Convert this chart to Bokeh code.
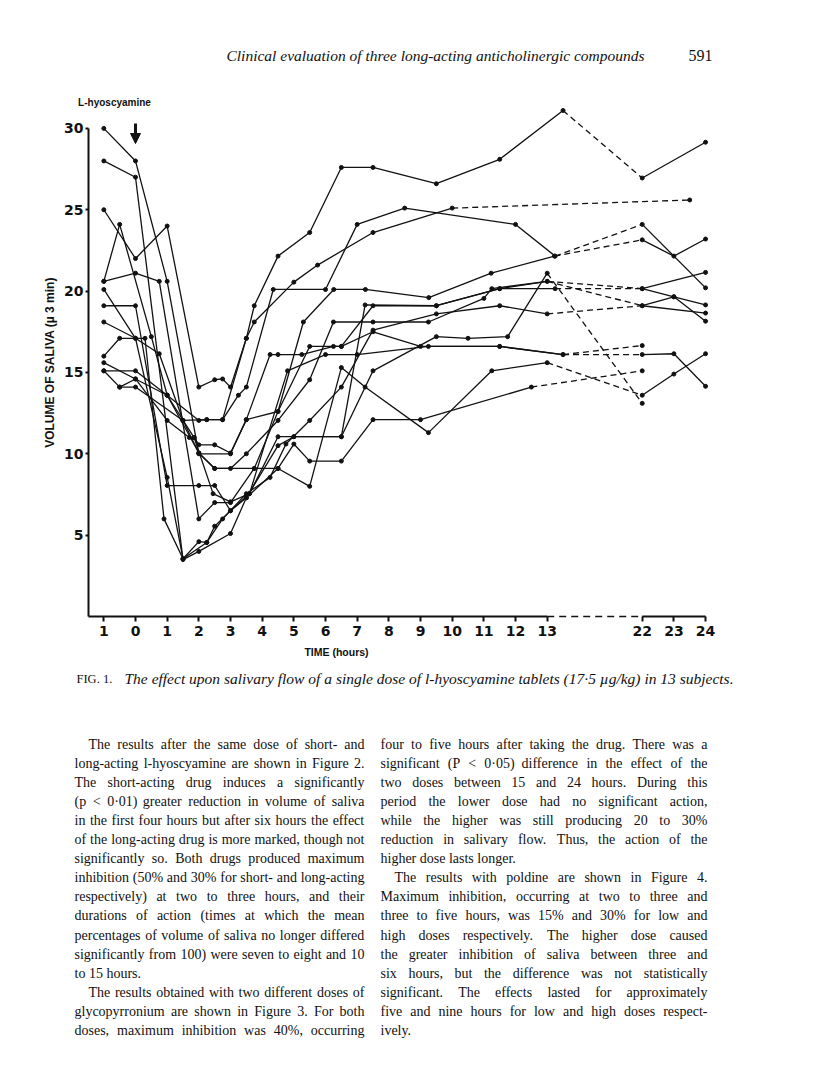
import math
from bokeh.plotting import figure
from bokeh.models import Label, LabelSet, ColumnDataSource, Arrow, NormalHead, FixedTicker, LinearAxis
from bokeh.embed import file_html
from bokeh.resources import INLINE
from bokeh.core.properties import value

# ---------------- data (hours, volume of saliva) ----------------
s1_t = [-1, 0, 1, 2, 3, 3.5, 4.5, 5.3, 6.26, 7.26, 9.26, 11.23, 13.23, 22, 23, 24]
s1_v = [30, 28, 20.6, 10.0, 10.0, 12.1, 12.6, 18.1, 20.1, 20.1, 19.6, 21.1, 22.15, 23.15, 22.15, 23.2]
s2_t = [-1, 0, 1.5, 2, 3, 3.5, 4.5, 5.5, 6.5, 7.25, 9.25, 11.25, 13, 22, 23, 24]
s2_v = [28, 27, 3.5, 4.0, 5.1, 7.3, 9.1, 8.0, 15.3, 14.1, 11.3, 15.1, 15.6, 13.6, 14.9, 16.15]
s3_t = [-1, 0, 1, 2, 2.5, 2.75, 3, 3.5, 3.75, 4.5, 5.5, 6.5, 7.5, 9.5, 11.5, 13.5, 22, 24]
s3_v = [25, 22, 24, 14.1, 14.55, 14.6, 14.1, 17.1, 19.1, 22.15, 23.6, 27.6, 27.6, 26.6, 28.1, 31.1, 26.95, 29.15]
s4_t = [-1, -0.5, 0.5, 1, 2, 2.25, 2.75, 3.25, 3.5, 4.35, 6, 7, 8.5, 12, 13.25, 22, 24]
s4_v = [20.6, 24.1, 17.2, 13.6, 12.05, 12.1, 12.1, 13.6, 14.1, 20.1, 20.1, 24.1, 25.1, 24.1, 22.15, 24.1, 20.2]
s5_t = [-1, 0, 0.75, 2, 2.5, 3, 3.75, 4.5, 5, 5.5, 6.5, 7.5, 9, 12.5, 22]
s5_v = [20.6, 21.1, 20.6, 6.0, 7.0, 7.0, 9.1, 9.1, 10.6, 9.55, 9.55, 12.1, 12.1, 14.1, 15.1]
s6_t = [-1, 0, 1, 1.5, 2, 2.25, 2.75, 3.5, 4.25, 4.75, 5.5, 6.5, 7.5, 9.5, 11.5, 13, 22, 24]
s6_v = [20.1, 17.1, 8.55, 3.55, 4.6, 4.55, 6.0, 7.55, 8.55, 10.6, 12.05, 14.1, 17.6, 18.6, 19.1, 18.6, 19.1, 18.65]
s7_t = [-1, 0, 1, 2, 2.5, 3, 3.5, 4.5, 5, 6.5, 7.5, 9.5, 10.5, 11.75, 13, 22]
s7_v = [19.1, 19.1, 8.05, 8.05, 8.05, 6.5, 7.3, 10.5, 11.05, 11.05, 15.1, 17.2, 17.1, 17.2, 21.1, 13.1]
s8_t = [-1, 0, 0.75, 1.5, 2, 2.5, 3, 3.5, 4.5, 5.5, 6.25, 7.5, 9.25, 11, 11.25, 13, 22, 23, 24]
s8_v = [18.1, 17.1, 16.15, 12.05, 10.05, 9.1, 9.1, 10.0, 12.05, 14.55, 18.1, 18.1, 18.1, 19.55, 20.15, 20.6, 20.15, 19.65, 19.15]
s9_t = [-1, -0.5, 0.3, 0.9, 1.5, 2.25, 2.5, 3, 3.6, 4.8, 6, 7, 9.25, 11.5, 13.5, 22]
s9_v = [16.0, 17.1, 17.1, 6.0, 3.55, 4.55, 5.55, 6.5, 7.55, 15.1, 16.1, 16.1, 16.6, 16.6, 16.1, 16.65]
s10_t = [-1, 0, 1, 1.7, 1.85, 2, 2.5, 3, 3.5, 4.25, 4.5, 5.25, 6.25, 6.5, 7.5, 9.5, 11.5, 13.25, 22, 24]
s10_v = [15.6, 14.6, 12.05, 11.0, 11.0, 10.55, 10.55, 10.05, 12.1, 16.1, 16.1, 16.1, 16.6, 16.6, 19.1, 19.1, 20.15, 20.15, 20.15, 21.15]
s11_t = [-1, 0, 1, 2, 2.5, 3.75, 4.5, 5.5, 6.5, 7.5, 9, 11.5, 13.5, 22, 23, 24]
s11_v = [15.1, 15.1, 13.6, 10.05, 9.1, 9.1, 12.6, 16.6, 16.6, 17.5, 16.6, 16.6, 16.1, 16.1, 16.15, 14.15]
s12_t = [-0.5, 0, 1, 1.85, 2.45, 3, 3.6, 4.5, 5, 6.5, 7.25, 9.5, 11.5, 13, 22, 23, 24]
s12_v = [14.1, 14.6, 13.6, 11.0, 7.55, 7.05, 7.55, 11.05, 11.05, 11.05, 19.15, 19.1, 20.15, 20.6, 19.1, 19.65, 18.15]
s13_t = [-1, -0.5, 0, 1.5, 2.25, 2.75, 3.5, 3.75, 5, 5.75, 7.5, 10, 23.5]
s13_v = [15.1, 14.1, 14.1, 12.05, 12.1, 12.1, 17.1, 18.1, 20.55, 21.6, 23.6, 25.1, 25.6]

series = [(s1_t, s1_v), (s2_t, s2_v), (s3_t, s3_v), (s4_t, s4_v), (s5_t, s5_v),
          (s6_t, s6_v), (s7_t, s7_v), (s8_t, s8_v), (s9_t, s9_v), (s10_t, s10_v),
          (s11_t, s11_v), (s12_t, s12_v), (s13_t, s13_v)]

tick_hours = [-1, 0, 1, 2, 3, 4, 5, 6, 7, 8, 9, 10, 11, 12, 13, 22, 23, 24]
tick_labels = ["1", "0", "1", "2", "3", "4", "5", "6", "7", "8", "9", "10", "11", "12", "13", "22", "23", "24"]
y_ticks = [5, 10, 15, 20, 25, 30]

# ---------------- page text ----------------
header = "Clinical evaluation of three long-acting anticholinergic compounds"
page_no = "591"
caption_fig = "FIG. 1."
caption = "The effect upon salivary flow of a single dose of l-hyoscyamine tablets (17·5 µg/kg) in 13 subjects."
left_col = [
    "The results after the same dose of short- and",
    "long-acting l-hyoscyamine are shown in Figure 2.",
    "The short-acting drug induces a significantly",
    "(p < 0·01) greater reduction in volume of saliva",
    "in the first four hours but after six hours the effect",
    "of the long-acting drug is more marked, though not",
    "significantly so. Both drugs produced maximum",
    "inhibition (50% and 30% for short- and long-acting",
    "respectively) at two to three hours, and their",
    "durations of action (times at which the mean",
    "percentages of volume of saliva no longer differed",
    "significantly from 100) were seven to eight and 10",
    "to 15 hours.",
    "The results obtained with two different doses of",
    "glycopyrronium are shown in Figure 3. For both",
    "doses, maximum inhibition was 40%, occurring",
]
left_last = [12]
left_indent = [0, 13]
right_col = [
    "four to five hours after taking the drug. There was a",
    "significant (P < 0·05) difference in the effect of the",
    "two doses between 15 and 24 hours. During this",
    "period the lower dose had no significant action,",
    "while the higher was still producing 20 to 30%",
    "reduction in salivary flow. Thus, the action of the",
    "higher dose lasts longer.",
    "The results with poldine are shown in Figure 4.",
    "Maximum inhibition, occurring at two to three and",
    "three to five hours, was 15% and 30% for low and",
    "high doses respectively. The higher dose caused",
    "the greater inhibition of saliva between three and",
    "six hours, but the difference was not statistically",
    "significant. The effects lasted for approximately",
    "five and nine hours for low and high doses respect-",
    "ively.",
]
right_last = [6, 15]
right_indent = [7]

# ---------------- geometry (page pixels) ----------------
W, H = 800, 1080
FRAME_L, FRAME_B = 40, 1052        # frame covers the page; axes sit inside it
X0, Y0 = 135.0, 616.0              # page position of hour 0 / volume 0
PX_H, PX_V = 31.67, 16.27          # pixels per hour / per unit volume
AXIS_X = 88.0                      # page x of the volume axis


def xpos(h):
    return h if h <= 14 else h - 6


def dx(px):
    return (px - X0) / PX_H


def dy(py):
    return (Y0 - py) / PX_V


p = figure(width=W, height=H, output_backend="svg", toolbar_location=None,
           x_axis_location=None, y_axis_location=None,
           x_range=(dx(FRAME_L), dx(W)), y_range=(dy(FRAME_B), dy(0)),
           min_border_left=FRAME_L, min_border_right=0,
           min_border_top=0, min_border_bottom=H - FRAME_B)
p.outline_line_color = None
p.grid.visible = False
p.background_fill_color = "white"
p.border_fill_color = "white"

ink = "#111111"

xa = LinearAxis(fixed_location=0)
xa.ticker = FixedTicker(ticks=[xpos(h) for h in tick_hours])
xa.major_label_overrides = {xpos(h): lab for h, lab in zip(tick_hours, tick_labels)}
xa.axis_line_color = None
xa.major_tick_in = 0
xa.major_tick_out = 5
xa.major_tick_line_width = 2
xa.major_tick_line_color = ink
xa.minor_tick_line_color = None
xa.major_label_standoff = 4
xa.major_label_text_font = "DejaVu Sans"
xa.major_label_text_font_style = "bold"
xa.major_label_text_font_size = "14px"
xa.major_label_text_color = ink
p.add_layout(xa, "below")

ya = LinearAxis(fixed_location=dx(AXIS_X))
ya.ticker = FixedTicker(ticks=y_ticks)
ya.bounds = (0, 30)
ya.axis_line_width = 2
ya.axis_line_color = ink
ya.major_tick_in = 0
ya.major_tick_out = 3
ya.major_tick_line_width = 2
ya.major_tick_line_color = ink
ya.minor_tick_line_color = None
ya.major_label_standoff = 2
ya.major_label_text_font = "DejaVu Sans"
ya.major_label_text_font_style = "bold"
ya.major_label_text_font_size = "14px"
ya.major_label_text_baseline = "alphabetic"
ya.major_label_text_color = ink
p.add_layout(ya, "left")

# time axis line: solid to 13 h, dashed break, solid 22-24 h
p.line([dx(AXIS_X), xpos(13)], [0, 0], line_color=ink, line_width=2)
p.line([xpos(13), xpos(22)], [0, 0], line_color=ink, line_width=1.5, line_dash="7 5")
p.line([xpos(22), xpos(24)], [0, 0], line_color=ink, line_width=2)

# subject curves
for t, v in series:
    pre = [(xpos(a), b) for a, b in zip(t, v) if a <= 14]
    post = [(xpos(a), b) for a, b in zip(t, v) if a > 14]
    if len(pre) > 1:
        p.line([q[0] for q in pre], [q[1] for q in pre], line_color=ink, line_width=1.3)
    if pre and post:
        p.line([pre[-1][0], post[0][0]], [pre[-1][1], post[0][1]], line_color=ink,
               line_width=1.3, line_dash="6 4")
    if len(post) > 1:
        p.line([q[0] for q in post], [q[1] for q in post], line_color=ink, line_width=1.3)
    p.scatter([xpos(a) for a in t], v, size=4, marker="circle", color=ink)

# dose arrow and label
p.add_layout(Arrow(end=NormalHead(size=10, fill_color=ink, line_color=ink),
                   x_start=0, y_start=dy(123), x_end=0, y_end=dy(143),
                   line_width=3, line_color=ink))


def page_label(text, px, py, size, font="Liberation Serif", style="normal",
               align="left", baseline="alphabetic", angle=0.0):
    p.add_layout(Label(x=dx(px), y=dy(py), text=text, text_font=font,
                       text_font_size=f"{size}px", text_font_style=style,
                       text_align=align, text_baseline=baseline, angle=angle,
                       text_color=ink))


page_label("L-hyoscyamine", 114, 102, 10, font="Liberation Sans", style="bold", align="center")
page_label("VOLUME OF SALIVA (µ 3 min)", 49, 362, 12, font="Liberation Sans",
           style="bold", align="center", baseline="middle", angle=math.pi / 2)
page_label("TIME (hours)", 336, 651, 10.5, font="Liberation Sans", style="bold", align="center")
page_label(header, 435, 55, 15.5, style="italic", align="center")
page_label(page_no, 712, 55, 16, align="right")
page_label(caption_fig, 76, 678, 12.5)
page_label(caption, 124, 678, 15.5, style="italic")

# justified body text (Times metrics, per 1000 em)
TW = dict(zip(" abcdefghijklmnopqrstuvwxyz",
              [250, 444, 500, 444, 500, 444, 333, 500, 500, 278, 278, 500, 278, 778,
               500, 500, 500, 500, 333, 389, 278, 500, 500, 722, 500, 500, 444]))
TW.update(dict(zip("ABCDEFGHIJKLMNOPQRSTUVWXYZ",
                   [722, 667, 667, 722, 611, 556, 722, 722, 333, 389, 722, 611, 889,
                    722, 722, 556, 722, 667, 556, 611, 722, 722, 944, 722, 722, 611])))
TW.update({c: 500 for c in "0123456789"})
TW.update({".": 250, ",": 250, "(": 333, ")": 333, "-": 333, "%": 833, "<": 564,
           ":": 278, ";": 278, "·": 250})

BODY = 14.0


def tw(s):
    return sum(TW.get(c, 500) for c in s) * BODY / 1000.0


def justify(lines, x0, x1, y0, step, last, indent):
    xs, ys, ts = [], [], []
    for i, line in enumerate(lines):
        words = line.split(" ")
        left = x0 + (14 if i in indent else 0)
        total = sum(tw(w) for w in words)
        if i in last or len(words) == 1:
            gap = tw(" ")
        else:
            gap = (x1 - left - total) / (len(words) - 1)
        x = left
        y = y0 + i * step
        for w in words:
            xs.append(dx(x))
            ys.append(dy(y))
            ts.append(w)
            x += tw(w) + gap
    return xs, ys, ts


lx, ly, lt = justify(left_col, 74, 364, 748, 19.1, left_last, left_indent)
rx, ry, rt = justify(right_col, 380, 707, 748, 19.1, right_last, right_indent)
body_src = ColumnDataSource(dict(x=lx + rx, y=ly + ry, text=lt + rt))
p.add_layout(LabelSet(x="x", y="y", text="text", source=body_src,
                      text_font=value("Liberation Serif"), text_font_size=value(f"{BODY}px"),
                      text_baseline="alphabetic", text_color=ink))

open("out.html", "w").write(file_html(p, INLINE))
